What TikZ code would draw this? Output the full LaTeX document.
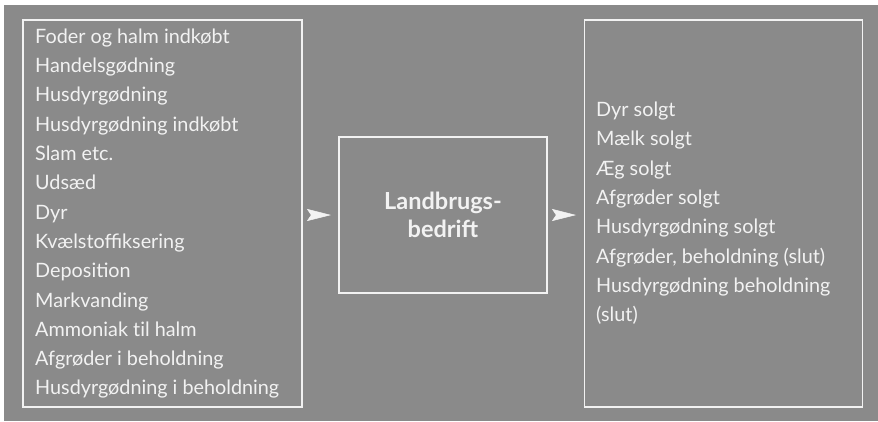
\documentclass[tikz,border=0pt]{standalone}
\usepackage{fontspec}
\setmainfont{Lato}
\usetikzlibrary{arrows.meta}

\definecolor{panelgray}{RGB}{138,138,138}
\definecolor{chalk}{RGB}{242,242,242}

\begin{document}
\begin{tikzpicture}[x=1pt,y=-1pt]

      \useasboundingbox (0,0) rectangle (878,421);
      \fill[panelgray] (4,5) rectangle (878,421);

      \begin{scope}[every node/.style={draw=chalk, line width=1.6pt, inner sep=0pt}]
        \node[minimum width=279pt, minimum height=387pt] (inputs)  at (162.5,213.5) {};
        \node[minimum width=208pt, minimum height=156pt] (farm)    at (443,215)     {};
        \node[minimum width=278pt, minimum height=387pt] (outputs) at (723.5,213.5) {};
      \end{scope}

      \begin{scope}[every node/.style={text=chalk, inner sep=0pt, align=left,
          font=\fontsize{19.8}{29.3}\selectfont}]
        \node[anchor=north west] (inlist) at (35,28.6) {Foder og halm indkøbt\\
          Handelsgødning\\
          Husdyrgødning\\
          Husdyrgødning indkøbt\\
          Slam etc.\\
          Udsæd\\
          Dyr\\
          Kvælstoffiksering\\
          Deposition\\
          Markvanding\\
          Ammoniak t\kern0pt il halm\\
          Afgrøder i beholdning\\
          Husdyrgødning i beholdning};
        \node[anchor=north west] (outlist) at (596,101.8) {Dyr solgt\\
          Mælk solgt\\
          Æg solgt\\
          Afgrøder solgt\\
          Husdyrgødning solgt\\
          Afgrøder, beholdning (slut)\\
          Husdyrgødning beholdning\\
          (slut)};
      \end{scope}

      \node[text=chalk, align=center, font=\fontsize{23.5}{28}\selectfont\bfseries]
        (farmlabel) at (farm) {Landbrugs-\\bedrift};

      \begin{scope}[every edge/.style={draw=chalk, fill=chalk, line width=0.5pt,
          -{Stealth[length=24pt, width=12pt, inset=4pt]}}]
        \path (inputs.east |- farm.west) edge[shorten <=8pt, shorten >=7.2pt] (farm.west);
        \path (farm.east) edge[shorten <=8pt, shorten >=7.7pt] (outputs.west |- farm.east);
      \end{scope}

    \end{tikzpicture}
\end{document}
